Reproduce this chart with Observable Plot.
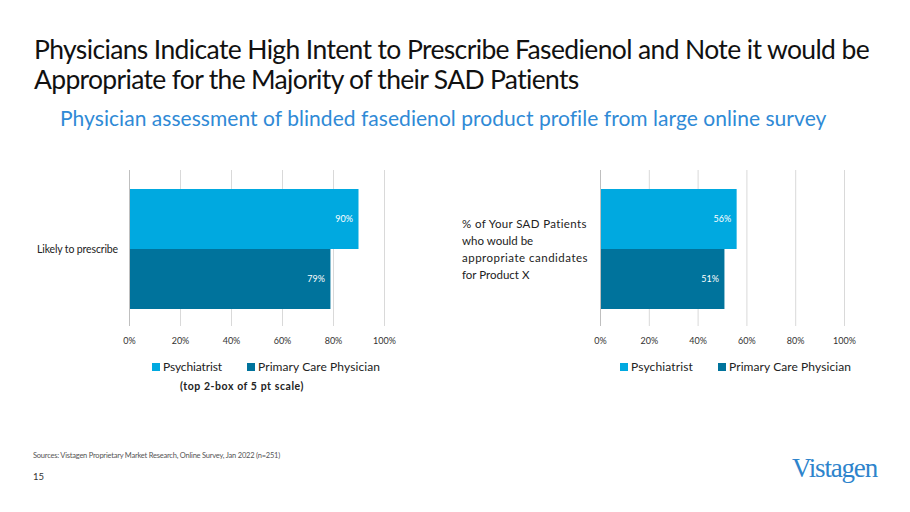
<!DOCTYPE html>
<html>
<head>
<meta charset="utf-8">
<script src="https://cdn.jsdelivr.net/npm/d3@7"></script>
<script src="https://cdn.jsdelivr.net/npm/@observablehq/plot@0.6"></script>
<style>
  html, body { margin: 0; padding: 0; background: #fff; }
  body { width: 910px; height: 512px; position: relative; overflow: hidden; font-family: Lato, "Open Sans", sans-serif; }
  .abs { position: absolute; white-space: nowrap; }
  .title { font-size: 26.5px; line-height: 30px; color: #111; }
  #subtitle { left: 60px; top: 105px; font-size: 21px; line-height: 26px; color: #2f8ad6; }
  .ylab { color: #222; font-size: 11.5px; }
  .legend { font-size: 12px; color: #222; display: flex; align-items: center; }
  .sw { display: inline-block; width: 8px; height: 8px; margin-right: 3px; }
  #note { left: 180px; top: 380px; font-size: 10.5px; font-weight: bold; color: #222; }
  #source { left: 33px; top: 451px; font-size: 7.5px; color: #555; }
  #page { left: 33px; top: 471px; font-size: 9.5px; color: #333; }
  #logo { left: 792px; top: 453px; font-family: "Liberation Serif", "DejaVu Serif", serif; font-size: 27px; color: #2e84cc; }
</style>
</head>
<body>
<div id="t1" class="abs title" style="left:34px; top:34px;">Physicians Indicate High Intent to Prescribe Fasedienol and Note it would be</div>
<div id="t2" class="abs title" style="left:34px; top:64px;">Appropriate for the Majority of their SAD Patients</div>
<div id="subtitle" class="abs">Physician assessment of blinded fasedienol product profile from large online survey</div>

<div id="ylabL" class="abs ylab" style="left:37px; top:243px; font-size:10.5px;">Likely to prescribe</div>
<div class="abs ylab" style="left:462px; top:215px; line-height:17px;">
  <div id="r1">% of Your SAD Patients</div><div id="r2">who would be</div><div id="r3">appropriate candidates</div><div id="r4">for Product X</div>
</div>

<div id="chartL" class="abs" style="left:119px; top:160px;"></div>
<div id="chartR" class="abs" style="left:590px; top:160px;"></div>

<div id="legendL" class="abs legend" style="left:152px; top:359px;"></div>
<div id="legendR" class="abs legend" style="left:620px; top:359px;"></div>

<div id="note" class="abs">(top 2-box of 5 pt scale)</div>
<div id="source" class="abs">Sources: Vistagen Proprietary Market Research, Online Survey, Jan 2022 (n=251)</div>
<div id="page" class="abs">15</div>
<div id="logo" class="abs">Vistagen</div>

<script>
const categories = ["Psychiatrist", "Primary Care Physician"];
const colors = ["#00a9e0", "#00739c"];
const likelyToPrescribe = [90, 79];
const appropriateShare = [56, 51];
const tickValues = [0, 20, 40, 60, 80, 100];

function makeChart(values, plotWidth) {
  const data = categories.map((c, i) => ({category: c, value: values[i]}));
  const mL = 10, mR = 15;
  return Plot.plot({
    width: mL + plotWidth + mR,
    height: 190,
    marginLeft: mL,
    marginRight: mR,
    marginTop: 10,
    marginBottom: 24,
    style: {fontFamily: "Lato, 'Open Sans', sans-serif", fontSize: "9px", color: "#333", background: "transparent"},
    x: {domain: [0, 100], ticks: tickValues, tickFormat: d => d + "%", tickSize: 0, tickPadding: 11, label: null, grid: false},
    y: {type: "band", domain: categories, range: [29, 149], padding: 0, axis: null},
    color: {domain: categories, range: colors},
    marks: [
      Plot.gridX(tickValues.slice(1), {stroke: "#d9d9d9", strokeOpacity: 1, strokeWidth: 1}),
      Plot.barX(data, {x: "value", y: "category", fill: "category"}),
      Plot.ruleX([0], {stroke: "#bfbfbf", strokeWidth: 1}),
      Plot.text(data, {x: "value", y: "category", text: d => d.value + "%", textAnchor: "end", dx: -6, fill: "white", fontSize: 9})
    ]
  });
}

document.getElementById("chartL").appendChild(makeChart(likelyToPrescribe, 255));
document.getElementById("chartR").appendChild(makeChart(appropriateShare, 244));

function makeLegend(el, widths) {
  categories.forEach((c, i) => {
    const item = document.createElement("span");
    item.style.display = "inline-flex";
    item.style.alignItems = "center";
    item.style.marginRight = i === 0 ? "25px" : "0";
    const sw = document.createElement("span");
    sw.className = "sw";
    sw.style.background = colors[i];
    item.appendChild(sw);
    const t = document.createElement("span");
    t.textContent = c;
    t.dataset.fit = widths[i];
    item.appendChild(t);
    el.appendChild(item);
  });
}
makeLegend(document.getElementById("legendL"), [59, 122]);
makeLegend(document.getElementById("legendR"), [62, 122]);

// fit text widths to the reference via letter spacing
function fit(el, target) {
  el.style.display = "inline-block";
  const w = el.getBoundingClientRect().width;
  const n = el.textContent.length;
  el.style.letterSpacing = ((target - w) / n) + "px";
}
const fits = [["t1", 835], ["t2", 545], ["subtitle", 766], ["ylabL", 81], ["r1", 125], ["r3", 126], ["source", 247], ["note", 124], ["logo", 85]];
fits.forEach(([id, w]) => fit(document.getElementById(id), w));
document.querySelectorAll("[data-fit]").forEach(el => fit(el, +el.dataset.fit));
</script>
</body>
</html>
